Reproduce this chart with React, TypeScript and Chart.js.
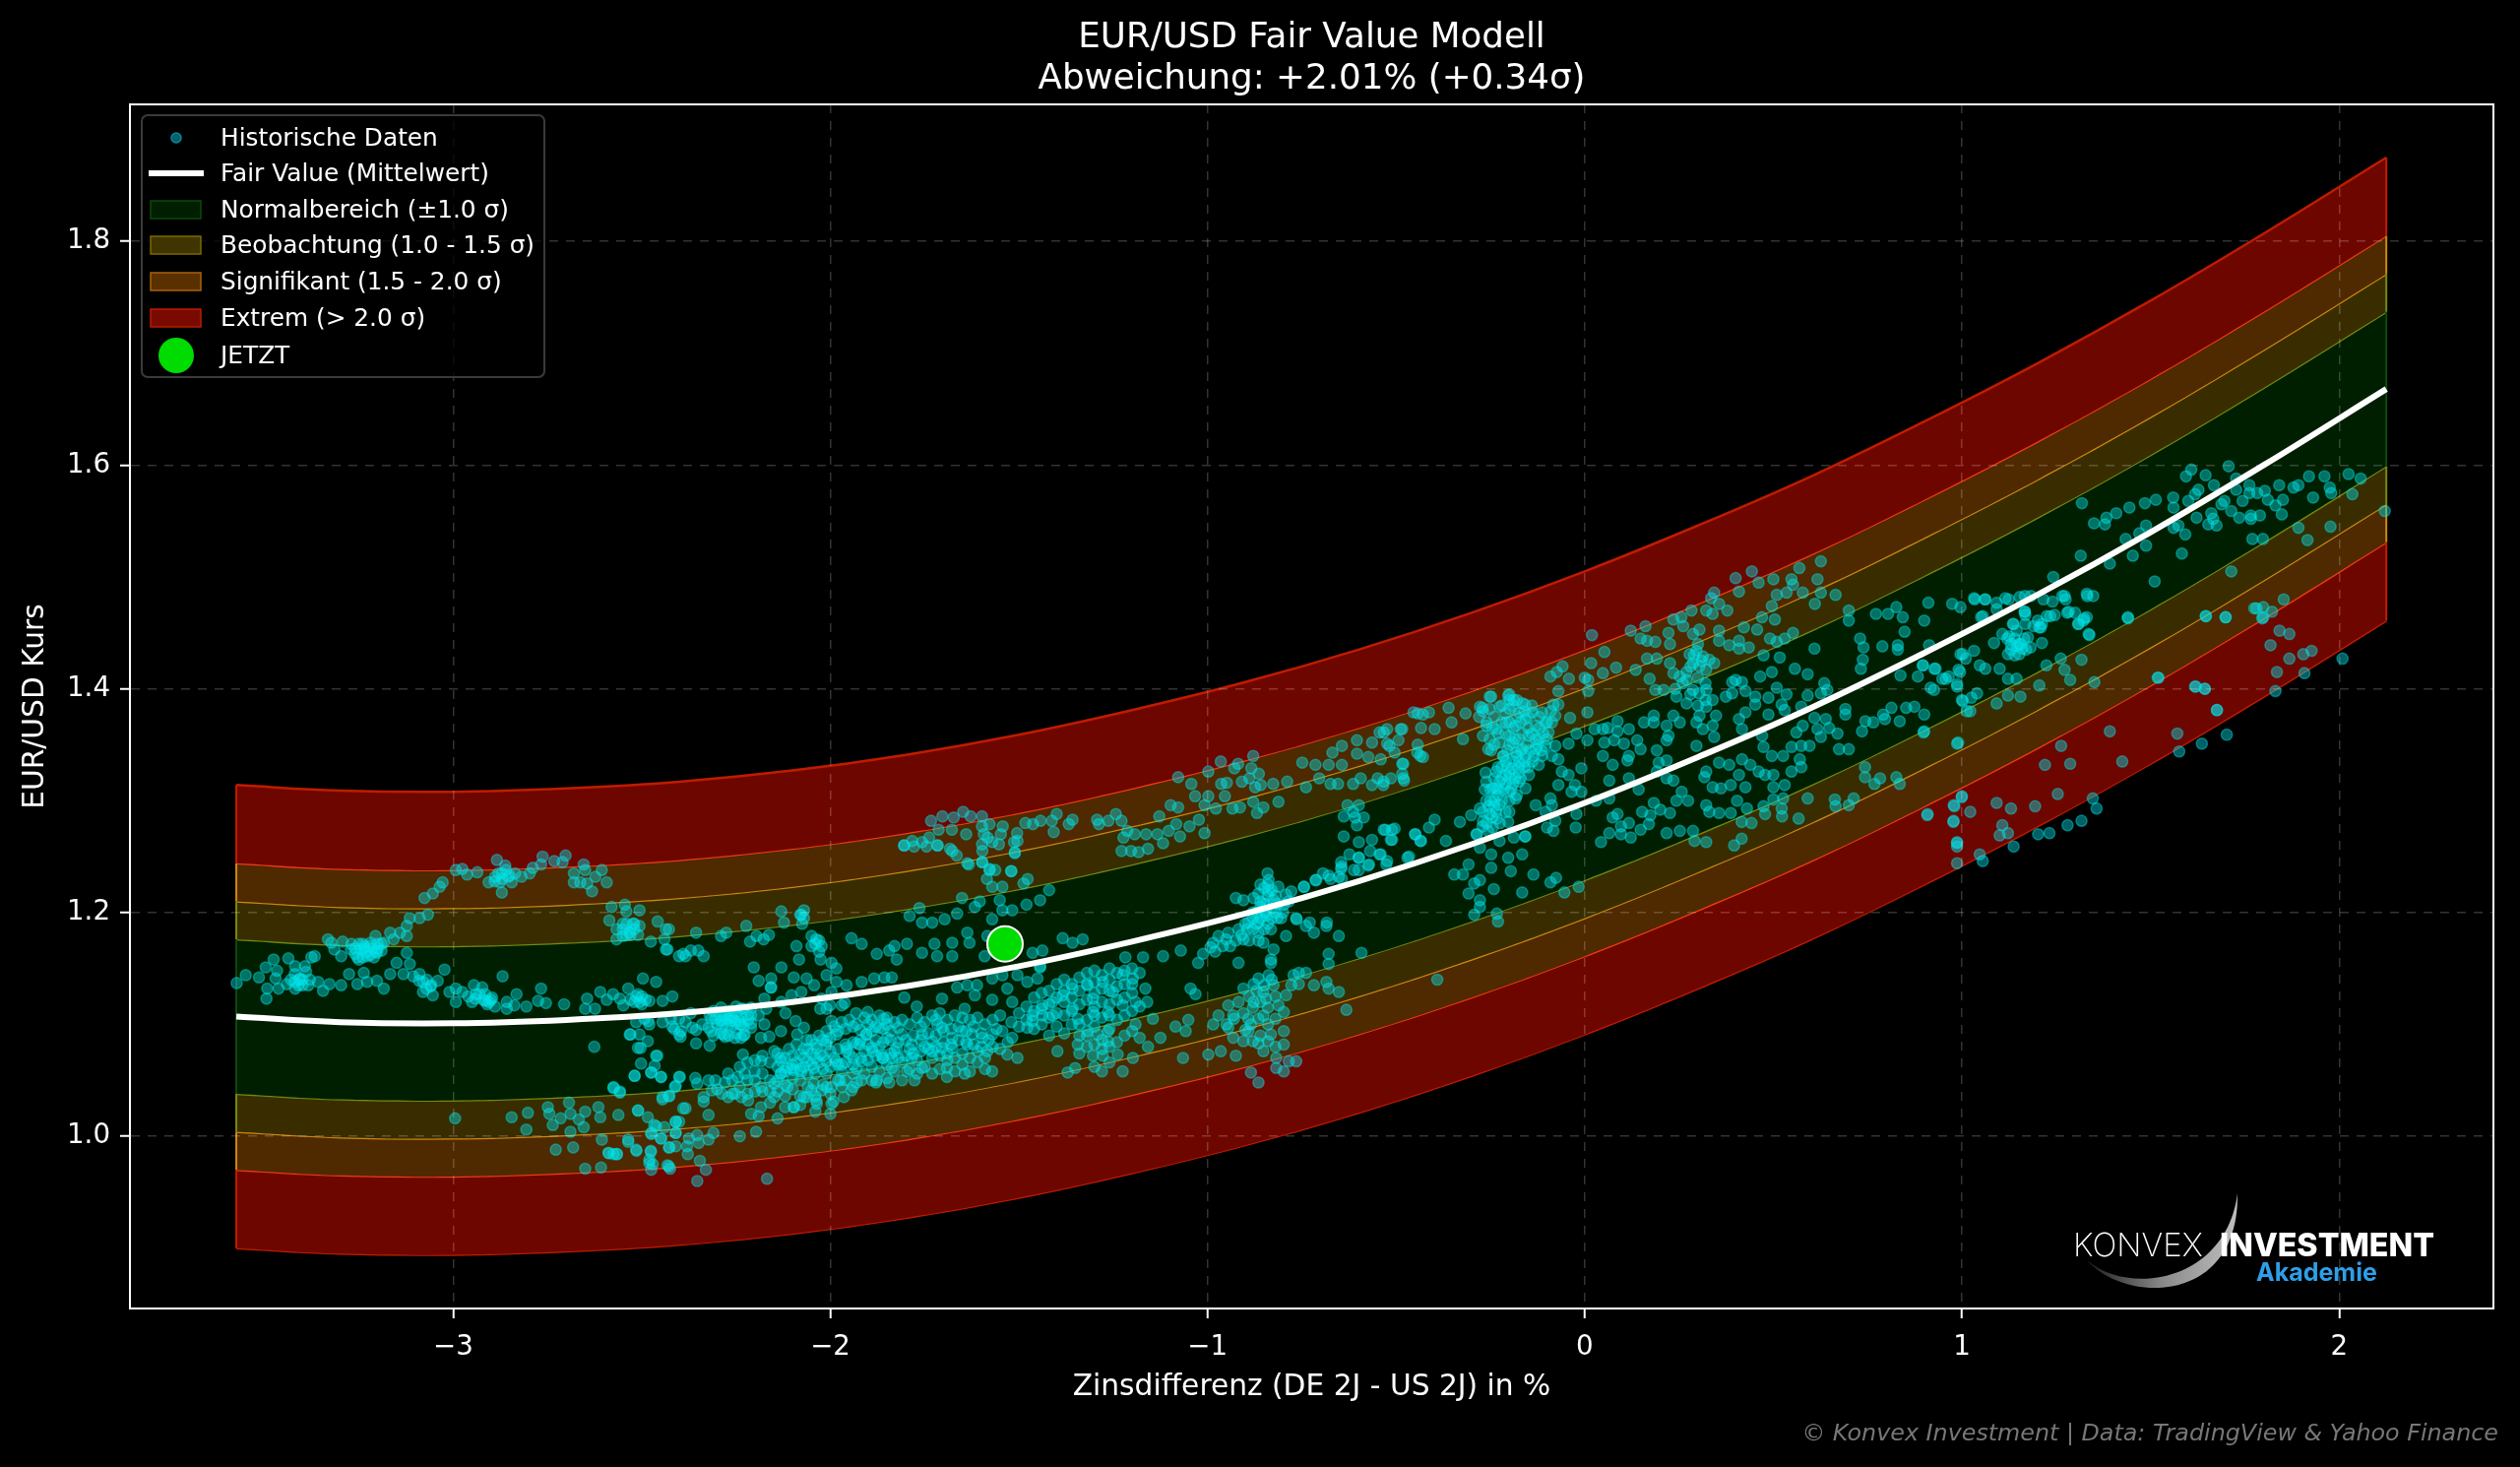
import { useEffect, useRef } from 'react';
import { Chart, registerables } from 'chart.js';
import type { ChartConfiguration, Plugin } from 'chart.js';

Chart.register(...registerables);

const titleLines = ['EUR/USD Fair Value Modell', 'Abweichung: +2.01% (+0.34σ)'];
const xAxisLabel = 'Zinsdifferenz (DE 2J - US 2J) in %';
const yAxisLabel = 'EUR/USD Kurs';
const creditText = '© Konvex Investment | Data: TradingView & Yahoo Finance';
const legendLabels = [
  'Historische Daten',
  'Fair Value (Mittelwert)',
  'Normalbereich (±1.0 σ)',
  'Beobachtung (1.0 - 1.5 σ)',
  'Signifikant (1.5 - 2.0 σ)',
  'Extrem (> 2.0 σ)',
  'JETZT',
];

const xTickValues = [-3, -2, -1, 0, 1, 2];
const yTickValues = [1.0, 1.2, 1.4, 1.6, 1.8];

// curve and band edges
const curveX = [-3.575, -3.3, -3.0, -2.7, -2.4, -2.1, -1.8, -1.5, -1.2, -0.9, -0.6, -0.3, 0, 0.3, 0.6, 0.9, 1.2, 1.5, 1.8, 2.125];
const fairValue = [1.107, 1.102, 1.101, 1.104, 1.11, 1.12, 1.134, 1.152, 1.174, 1.199, 1.228, 1.261, 1.298, 1.339, 1.383, 1.432, 1.484, 1.54, 1.6, 1.668];
const upper1 = [1.176, 1.171, 1.17, 1.173, 1.179, 1.189, 1.203, 1.221, 1.243, 1.268, 1.297, 1.33, 1.367, 1.408, 1.452, 1.501, 1.553, 1.609, 1.669, 1.737];
const upper15 = [1.21, 1.205, 1.204, 1.207, 1.213, 1.223, 1.237, 1.255, 1.277, 1.302, 1.331, 1.364, 1.401, 1.442, 1.486, 1.535, 1.587, 1.643, 1.703, 1.771];
const upper2 = [1.244, 1.239, 1.238, 1.241, 1.247, 1.257, 1.271, 1.289, 1.311, 1.336, 1.365, 1.398, 1.435, 1.476, 1.52, 1.569, 1.621, 1.677, 1.737, 1.805];
const upper3 = [1.314, 1.309, 1.308, 1.311, 1.317, 1.327, 1.341, 1.359, 1.381, 1.406, 1.435, 1.468, 1.505, 1.546, 1.59, 1.639, 1.691, 1.747, 1.807, 1.875];
const lower1 = [1.038, 1.033, 1.032, 1.035, 1.041, 1.051, 1.065, 1.083, 1.105, 1.13, 1.159, 1.192, 1.229, 1.27, 1.314, 1.363, 1.415, 1.471, 1.531, 1.599];
const lower15 = [1.004, 0.999, 0.998, 1.001, 1.007, 1.017, 1.031, 1.049, 1.071, 1.096, 1.125, 1.158, 1.195, 1.236, 1.28, 1.329, 1.381, 1.437, 1.497, 1.565];
const lower2 = [0.97, 0.965, 0.964, 0.967, 0.973, 0.983, 0.997, 1.015, 1.037, 1.062, 1.091, 1.124, 1.161, 1.202, 1.246, 1.295, 1.347, 1.403, 1.463, 1.531];
const lower3 = [0.9, 0.895, 0.894, 0.897, 0.903, 0.913, 0.927, 0.945, 0.967, 0.992, 1.021, 1.054, 1.091, 1.132, 1.176, 1.225, 1.277, 1.333, 1.393, 1.461];

const nowPoint = { x: -1.537, y: 1.172 };

// historical points, estimated cluster by cluster from the picture
const histLeftTail = [[-3.574,1.137],[-3.55,1.144],[-3.515,1.142],[-3.497,1.151],[-3.476,1.158],[-3.467,1.148],[-3.471,1.141],[-3.493,1.132],[-3.495,1.123],[-3.463,1.132],[-3.437,1.159],[-3.419,1.152],[-3.393,1.152],[-3.376,1.16],[-3.367,1.161],[-3.406,1.141],[-3.419,1.132],[-3.441,1.136],[-3.384,1.135],[-3.358,1.138],[-3.345,1.13],[-3.328,1.136],[-3.297,1.135],[-3.276,1.145],[-3.254,1.136],[-3.237,1.146],[-3.228,1.138],[-3.202,1.139],[-3.184,1.132],[-3.167,1.145],[-3.15,1.155],[-3.132,1.145],[-3.115,1.154],[-3.123,1.164],[-3.42,1.138],[-3.41,1.135],[-3.4,1.14],[-3.43,1.14],[-3.39,1.147],
  [-3.332,1.176],[-3.323,1.173],[-3.315,1.167],[-3.297,1.161],[-3.293,1.174],[-3.271,1.167],[-3.254,1.16],[-3.245,1.167],[-3.228,1.161],[-3.236,1.17],[-3.219,1.173],[-3.206,1.179],[-3.202,1.164],[-3.184,1.173],[-3.167,1.182],[-3.158,1.176],[-3.141,1.182],[-3.123,1.179],[-3.123,1.188],[-3.115,1.195],[-3.089,1.195],[-3.067,1.198],[-3.076,1.213],[-3.054,1.217],[-3.036,1.223],[-3.028,1.227],[-3.26,1.163],[-3.25,1.158],[-3.24,1.172],[-3.23,1.165],[-3.215,1.168],[-3.21,1.16],[-3.2,1.172],[-3.19,1.166],
  [-2.993,1.238],[-2.976,1.239],[-2.963,1.234],[-2.936,1.236],[-2.884,1.247],[-2.862,1.242],[-2.906,1.227],[-2.871,1.218],[-2.889,1.232],[-2.871,1.235],[-2.854,1.232],[-2.836,1.235],[-2.845,1.227],[-2.876,1.227],[-2.819,1.232],[-2.797,1.235],[-2.789,1.24],[-2.763,1.25],[-2.732,1.246],[-2.702,1.251],[-2.71,1.245],[-2.767,1.243],[-2.654,1.243],[-2.65,1.238],[-2.68,1.235],[-2.663,1.227],[-2.68,1.227],[-2.632,1.219],[-2.623,1.232],[-2.606,1.238],[-2.593,1.227],[-2.645,1.226],
  [-3.106,1.143],[-3.089,1.145],[-3.08,1.138],[-3.071,1.132],[-3.058,1.135],[-3.041,1.139],[-3.08,1.129],[-3.054,1.126],[-3.023,1.149],[-3.01,1.129],[-2.993,1.132],[-2.993,1.12],[-2.976,1.129],[-2.945,1.135],[-2.923,1.133],[-2.941,1.123],[-2.915,1.121],[-2.897,1.124],[-2.889,1.116],[-2.858,1.12],[-2.858,1.114],[-2.832,1.127],[-2.838,1.117],[-2.806,1.116],[-2.775,1.121],[-2.767,1.132],[-2.754,1.119],[-2.869,1.143],[-2.706,1.118],[-2.93,1.127],[-2.915,1.127],[-2.905,1.12],[-2.96,1.125],[-2.95,1.12]];

const histLowerLeft = [[-2.645,1.123],[-2.65,1.114],[-2.624,1.114],[-2.61,1.129],[-2.593,1.122],[-2.576,1.127],[-2.558,1.123],[-2.536,1.132],[-2.549,1.117],[-2.515,1.125],[-2.506,1.12],[-2.497,1.141],[-2.462,1.138],[-2.48,1.121],[-2.445,1.121],[-2.419,1.125],[-2.532,1.091],[-2.506,1.091],[-2.484,1.085],[-2.51,1.079],[-2.626,1.08],[-2.462,1.072],[-2.502,1.065],[-2.519,1.054],[-2.475,1.057],[-2.449,1.053],[-2.401,1.053],[-2.575,1.044],[-2.558,1.039],[-2.412,1.044],[-2.515,1.102],[-2.48,1.1],[-2.445,1.102],[-2.401,1.105],[-2.384,1.102],[-2.414,1.096],[-2.397,1.089],[-2.493,1.105],
  [-2.58,1.205],[-2.545,1.207],[-2.541,1.201],[-2.506,1.202],[-2.586,1.193],[-2.523,1.19],[-2.506,1.188],[-2.567,1.185],[-2.55,1.185],[-2.532,1.182],[-2.567,1.176],[-2.55,1.179],[-2.476,1.174],[-2.458,1.192],[-2.428,1.185],[-2.44,1.176],[-2.432,1.167],[-2.401,1.161],[-2.384,1.161],[-2.52,1.185],[-2.54,1.18],
  [-2.995,1.016],[-2.845,1.017],[-2.802,1.021],[-2.806,1.006],[-2.749,1.026],[-2.745,1.02],[-2.736,1.01],[-2.715,1.016],[-2.693,1.03],[-2.689,1.02],[-2.667,1.015],[-2.65,1.022],[-2.654,1.008],[-2.689,1.004],[-2.728,0.988],[-2.682,0.99],[-2.615,1.026],[-2.61,1.017],[-2.562,1.019],[-2.51,1.023],[-2.484,1.017],[-2.467,1.01],[-2.475,1.003],[-2.449,0.998],[-2.41,1.013],[-2.41,1.003],[-2.428,0.99],[-2.606,0.997],[-2.588,0.985],[-2.566,0.984],[-2.536,0.995],[-2.515,0.988],[-2.476,0.986],[-2.48,0.976],[-2.428,0.973],[-2.65,0.971],[-2.608,0.972],[-2.384,1.025],[-2.38,0.991],[-2.445,1.035],[-2.428,1.036]];

const histMainBlobLeft = [[-2.401,1.091],[-2.356,1.083],[-2.32,1.081],[-2.232,1.073],[-2.131,1.094],[-1.932,1.11],[-1.901,1.111],[-2.184,1.088],[-2.162,1.089],[-2.227,1.091],[-2.253,1.088],[-2.279,1.089],[-2.323,1.097],[-2.366,1.097],[-2.419,1.098],
  [-2.305,1.105],[-2.288,1.104],[-2.271,1.105],[-2.253,1.103],[-2.236,1.107],[-2.218,1.104],[-2.288,1.098],[-2.262,1.098],[-2.24,1.1],[-2.21,1.097],[-2.175,1.1],[-2.119,1.11],[-2.175,1.123],[-2.158,1.133],[-2.092,1.103],[-2.07,1.097],[-2.088,1.091],[-2.062,1.086],[-2.027,1.114],[-2.001,1.117],[-1.962,1.119],[-1.997,1.103],
  [-2.149,1.076],[-2.132,1.07],[-2.184,1.067],[-2.201,1.058],[-2.227,1.056],[-2.245,1.053],[-2.271,1.056],[-2.114,1.061],[-2.132,1.056],[-2.097,1.059],[-2.07,1.07],[-2.044,1.061],[-2.027,1.073],[-2.01,1.082],[-1.984,1.067],[-1.957,1.079],[-1.94,1.064],[-1.923,1.082],[-1.905,1.091],[-1.888,1.076],[-1.871,1.097],[-1.862,1.07],[-1.858,1.105],
  [-2.271,1.035],[-2.253,1.038],[-2.288,1.038],[-2.236,1.035],[-2.218,1.032],[-2.184,1.026],[-2.149,1.035],[-2.097,1.026],[-2.062,1.035],[-2.036,1.029],[-1.992,1.031],[-2.044,1.047],[-2.01,1.044],[-1.975,1.05],[-1.94,1.044],[-2.114,1.044],[-2.149,1.047],[-2.184,1.044],[-2.21,1.02],[-1.879,1.048],
  [-2.519,1.054],[-2.459,1.072],[-2.466,1.063],[-2.475,1.057],[-2.449,1.053],[-2.399,1.053],[-2.358,1.052],[-2.353,1.047],[-2.323,1.05],[-2.305,1.05],[-2.41,1.045],[-2.575,1.043],[-2.558,1.04],[-2.336,1.035],[-2.336,1.031],[-2.314,1.041],[-2.445,1.033],[-2.427,1.036],[-2.39,1.025],[-2.323,1.019],[-2.51,1.023],
  [-2.41,1.013],[-2.401,1.013],[-2.44,1.008],[-2.462,1.009],[-2.41,1.003],[-2.353,1.001],[-2.31,1.003],[-2.323,0.997],[-2.349,0.994],[-2.375,0.998],[-2.24,1],[-2.197,1.004],[-2.41,0.991],[-2.427,0.99],[-2.378,0.984],[-2.346,0.978],[-2.33,0.97],[-2.353,0.96],[-2.168,0.962],[-2.432,0.974],[-2.425,0.971],[-2.471,0.975],[-2.475,0.97],[-2.48,0.979],[-2.476,0.987],[-2.575,0.984],[-2.566,0.984],[-2.588,0.985],[-2.514,0.987],[-2.536,0.997],[-2.449,0.998],[-2.475,1.002]];

const histStreak = [[-2.037,1.079],[-2.01,1.085],[-1.984,1.091],[-1.957,1.076],[-1.93,1.083],[-1.904,1.091],[-1.89,1.079],[-1.864,1.073],[-1.85,1.088],[-1.824,1.079],[-1.81,1.091],[-1.784,1.082],[-1.757,1.091],[-1.73,1.085],[-1.704,1.097],[-1.677,1.088],[-1.651,1.094],[-1.624,1.091],[-1.597,1.088],[-1.837,1.07],[-1.917,1.067],[-1.97,1.064],[-2.01,1.067],[-2.05,1.064],[-2.077,1.058],[-2.103,1.061],[-2.13,1.056],[-2.13,1.067],[-1.784,1.07],[-1.73,1.076],[-1.677,1.079],[-1.637,1.082],[-1.704,1.079],[-1.89,1.094],[-1.85,1.1],[-1.717,1.1],
  [-1.757,1.061],[-1.797,1.058],[-1.837,1.061],[-1.691,1.061],[-1.644,1.056],[-1.777,1.05],[-1.691,1.053],[-1.844,1.048],[-1.877,1.05],[-1.917,1.05],[-1.944,1.041],[-1.97,1.044],[-1.997,1.044],[-2.023,1.041],[-2.05,1.041],[-2.07,1.035],[-2.097,1.026],[-2.037,1.032],[-1.997,1.029],[-1.964,1.035],[-1.571,1.058],[-1.584,1.076],[-1.531,1.073],[-1.504,1.07],
  [-1.571,1.091],[-1.544,1.094],[-1.518,1.088],[-1.478,1.097],[-1.464,1.103],[-1.438,1.108],[-1.411,1.12],[-1.384,1.126],[-1.358,1.132],[-1.318,1.135],[-1.278,1.138],[-1.225,1.144],[-1.198,1.141],[-1.251,1.129],[-1.304,1.123],[-1.358,1.114],[-1.411,1.108],[-1.438,1.117],[-1.464,1.108],[-1.344,1.105],[-1.304,1.111],[-1.264,1.111],[-1.225,1.117],[-1.191,1.12],[-1.165,1.132],
  [-1.291,1.091],[-1.264,1.094],[-1.318,1.094],[-1.344,1.082],[-1.398,1.076],[-1.238,1.073],[-1.225,1.058],[-1.278,1.072],[-1.304,1.072],[-1.351,1.061],[-1.371,1.057],[-1.198,1.07],[-1.158,1.08],[-1.125,1.088],[-1.145,1.105],[-1.085,1.098],[-1.051,1.104],[-1.058,1.094],[-1.065,1.07],[-0.998,1.073],[-1.191,1.1],[-1.264,1.085]];

const histStreakDense = [[-2.14,1.05],[-2.14,1.062],[-2.12,1.046],[-2.12,1.058],[-2.12,1.07],[-2.1,1.052],[-2.1,1.064],[-2.1,1.072],[-2.08,1.05],[-2.08,1.06],[-2.08,1.073],[-2.06,1.055],[-2.06,1.067],[-2.06,1.078],[-2.04,1.056],[-2.04,1.07],[-2.04,1.082],[-2.02,1.06],[-2.02,1.072],[-2.02,1.086],[-2,1.062],[-2,1.076],[-2,1.088],[-1.98,1.064],[-1.98,1.078],[-1.98,1.094],[-1.96,1.066],[-1.96,1.082],[-1.96,1.096],[-1.94,1.07],[-1.94,1.084],[-1.94,1.098],[-1.92,1.07],[-1.92,1.086],[-1.92,1.095],[-1.9,1.068],[-1.9,1.082],[-1.9,1.1],[-1.88,1.072],[-1.88,1.086],[-1.88,1.098],[-1.86,1.07],[-1.86,1.084],[-1.86,1.096],[-1.84,1.074],[-1.84,1.086],[-1.84,1.094],[-1.82,1.07],[-1.82,1.084],[-1.82,1.097],[-1.8,1.072],[-1.8,1.086],[-1.78,1.074],[-1.78,1.09],[-1.76,1.076],[-1.76,1.086],[-1.76,1.098],[-1.74,1.078],[-1.74,1.092],[-1.72,1.08],[-1.72,1.09],[-1.72,1.104],[-1.7,1.084],[-1.7,1.094],[-1.68,1.082],[-1.68,1.096],[-1.66,1.086],[-1.66,1.098],[-1.64,1.084],[-1.64,1.094],[-1.62,1.082],[-1.62,1.098],[-1.6,1.08],[-1.6,1.092],[-1.58,1.086],[-1.56,1.096],
  [-1.5,1.098],[-1.48,1.104],[-1.46,1.096],[-1.46,1.112],[-1.44,1.1],[-1.44,1.114],[-1.42,1.106],[-1.42,1.118],[-1.4,1.11],[-1.4,1.124],[-1.38,1.108],[-1.38,1.12],[-1.38,1.13],[-1.36,1.112],[-1.36,1.124],[-1.34,1.118],[-1.34,1.13],[-1.32,1.122],[-1.32,1.136],[-1.3,1.116],[-1.3,1.128],[-1.3,1.138],[-1.28,1.12],[-1.28,1.132],[-1.26,1.118],[-1.26,1.13],[-1.26,1.14],[-1.24,1.122],[-1.24,1.134],[-1.22,1.124],[-1.22,1.136],[-1.2,1.128],[-1.2,1.136],[-1.32,1.09],[-1.3,1.098],[-1.28,1.086],[-1.26,1.096],[-1.34,1.1],
  [-2.3,1.1],[-2.28,1.108],[-2.27,1.1],[-2.25,1.11],[-2.24,1.103],[-2.22,1.108],[-2.21,1.101],[-2.29,1.108],[-2.26,1.106],[-2.23,1.098],
  [-2.2,1.05],[-2.18,1.056],[-2.16,1.05],[-2.18,1.04],[-2.14,1.04],[-2.12,1.036],[-2.1,1.042],[-2.08,1.036],[-2.06,1.044],[-2.04,1.036],[-2.02,1.046],[-2,1.038],[-1.98,1.05],[-1.96,1.05],[-1.94,1.056],[-2.2,1.04],[-2.24,1.044],[-2.26,1.038],[-2.22,1.05],
  [-3.26,1.168],[-3.25,1.172],[-3.24,1.16],[-3.235,1.168],[-3.22,1.162],[-3.22,1.17],[-3.205,1.165],[-3.2,1.168],[-3.27,1.172],[-3.19,1.172],[-3.42,1.145],[-3.41,1.14],[-3.4,1.135],[-3.38,1.14],[-3.09,1.139],[-3.07,1.14],[-3.06,1.134],[-2.92,1.122],[-2.91,1.118],[-2.9,1.122],[-2.94,1.127],
  [-2.53,1.122],[-2.51,1.127],[-2.5,1.125],[-2.5,1.118],[-2.49,1.122],[-2.52,1.12],[-2.88,1.235],[-2.87,1.23],[-2.86,1.238],[-2.85,1.233],[-2.89,1.228],[-2.54,1.19],[-2.53,1.18],[-2.55,1.19],[-2.52,1.19],[-2.51,1.18],[-2.08,1.198],[-2.075,1.19],[-2.07,1.195],[-2.05,1.17],[-2.04,1.172],[-2.03,1.165],[-2.03,1.175]];

const histStreakOuter = [[-2.11,1.078],[-2.09,1.082],[-2.07,1.078],[-2.05,1.086],[-2.03,1.09],[-2.01,1.094],[-1.99,1.098],[-1.97,1.102],[-1.95,1.104],[-1.93,1.1],[-1.91,1.106],[-1.89,1.104],[-1.87,1.108],[-1.85,1.106],[-1.83,1.102],[-1.81,1.104],[-1.79,1.1],[-1.77,1.106],[-1.75,1.102],[-1.73,1.108],[-1.71,1.11],[-1.69,1.104],[-1.67,1.108],[-1.65,1.106],[-1.63,1.104],[-1.61,1.106],[-1.59,1.1],[-1.57,1.104],[-1.55,1.108],
  [-2.09,1.066],[-2.07,1.062],[-2.05,1.074],[-2.03,1.066],[-2.01,1.056],[-1.99,1.07],[-1.97,1.058],[-1.95,1.074],[-1.93,1.06],[-1.91,1.076],[-1.89,1.062],[-1.87,1.08],[-1.85,1.064],[-1.83,1.076],[-1.81,1.066],[-1.79,1.078],[-1.77,1.068],[-1.75,1.08],[-1.73,1.07],[-1.71,1.072],[-1.69,1.074],[-1.67,1.07],[-1.65,1.074],[-1.63,1.07],[-1.61,1.076],[-1.59,1.07],[-1.57,1.08],[-1.55,1.078],[-1.53,1.084],
  [-1.93,1.048],[-1.91,1.056],[-1.89,1.05],[-1.87,1.058],[-1.85,1.052],[-1.83,1.058],[-1.81,1.05],[-1.79,1.06],[-1.77,1.056],[-1.75,1.062],[-1.73,1.056],[-1.71,1.06],[-1.69,1.068],[-1.67,1.058],[-1.65,1.064],[-1.63,1.058],[-1.61,1.066],[-1.59,1.06],
  [-1.52,1.102],[-1.5,1.11],[-1.48,1.116],[-1.46,1.124],[-1.44,1.128],[-1.42,1.13],[-1.4,1.136],[-1.38,1.14],[-1.36,1.136],[-1.34,1.142],[-1.32,1.146],[-1.3,1.148],[-1.28,1.144],[-1.26,1.15],[-1.24,1.146],[-1.22,1.148],[-1.2,1.15],[-1.18,1.146],[-1.42,1.09],[-1.4,1.098],[-1.38,1.092],[-1.36,1.1],[-1.34,1.09],[-1.32,1.104],[-1.3,1.108],[-1.28,1.106],[-1.26,1.108],[-1.24,1.104],[-1.22,1.108],[-1.2,1.112],[-1.18,1.116],[-1.16,1.12],[-1.34,1.074],[-1.32,1.08],[-1.3,1.082],[-1.28,1.078],[-1.26,1.08],[-1.24,1.084],[-1.22,1.09],[-1.2,1.094],[-1.18,1.088],[-1.3,1.062],[-1.28,1.058],[-1.26,1.066],
  [-2.34,1.1],[-2.32,1.108],[-2.31,1.112],[-2.29,1.115],[-2.27,1.112],[-2.25,1.116],[-2.23,1.114],[-2.21,1.115],[-2.19,1.108],[-2.31,1.09],[-2.29,1.092],[-2.27,1.09],[-2.25,1.092],[-2.23,1.09],
  [-2.24,1.062],[-2.22,1.066],[-2.2,1.068],[-2.18,1.072],[-2.16,1.066],[-2.14,1.074],[-2.26,1.05],[-2.28,1.048],[-2.3,1.042],[-2.22,1.038],[-2.16,1.04],[-2.12,1.026],[-2.08,1.028],[-2.04,1.022],[-2,1.02],[-2.16,1.03],[-2.19,1.018],[-2.14,1.016]];

const histAroundNow = [[-1.518,1.12],[-1.571,1.122],[-1.531,1.132],[-1.617,1.126],[-1.644,1.114],[-1.704,1.123],[-1.771,1.116],[-1.804,1.124],[-1.664,1.133],[-1.637,1.135],[-1.611,1.135],[-1.571,1.141],[-1.544,1.144],[-1.504,1.144],[-1.451,1.141],[-1.444,1.151],[-1.478,1.138],[-1.218,1.16],[-1.171,1.16],[-1.118,1.161],[-1.071,1.166],[-1.045,1.132],[-1.032,1.127],
  [-1.877,1.163],[-1.844,1.166],[-1.824,1.158],[-1.797,1.172],[-1.757,1.164],[-1.724,1.172],[-1.717,1.161],[-1.677,1.161],[-1.677,1.173],[-1.631,1.173],[-1.637,1.182],[-1.584,1.179],[-1.591,1.161],[-1.464,1.164],[-1.438,1.166],[-1.384,1.177],[-1.358,1.173],[-1.331,1.176],[-1.444,1.152],[-1.83,1.17],
  [-2.203,1.151],[-2.13,1.151],[-2.19,1.139],[-2.157,1.141],[-2.157,1.133],[-2.09,1.17],[-2.083,1.158],[-2.063,1.141],[-2.097,1.142],[-2.05,1.179],[-2.037,1.176],[-2.023,1.17],[-2.026,1.158],[-1.997,1.155],[-1.984,1.15],[-2.043,1.135],[-2.01,1.144],[-1.984,1.138],[-1.957,1.135],[-1.997,1.129],[-2.023,1.123],[-2.077,1.129],[-2.103,1.126],[-2.13,1.12],[-1.97,1.117],[-2.01,1.114],[-1.917,1.138],[-1.884,1.141],[-1.857,1.142],[-1.837,1.142],[-1.944,1.177],[-1.917,1.172],
  [-2.077,1.198],[-2.07,1.202],[-2.13,1.201],[-2.123,1.191],[-2.163,1.18],[-2.196,1.179],[-2.223,1.188],[-2.213,1.174],[-2.29,1.179],[-2.356,1.182],[-2.276,1.182],[-2.177,1.176],[-2.39,1.163],[-2.37,1.166],[-2.336,1.161],[-2.35,1.166],[-2.436,1.185],[-2.436,1.167],
  [-2.483,1.103],[-2.423,1.105],[-2.37,1.11],[-2.316,1.105],[-2.263,1.108],[-2.237,1.114],[-2.21,1.108],[-2.17,1.114],[-2.29,1.103],[-2.263,1.103],[-2.237,1.1],[-2.396,1.094],[-2.356,1.095],[-2.316,1.094],[-2.283,1.091],[-2.237,1.088],[-2.53,1.091],[-2.503,1.079],
  [-1.79,1.197],[-1.764,1.204],[-1.757,1.191],[-1.73,1.191],[-1.697,1.194],[-1.664,1.199],[-1.651,1.213],[-1.617,1.205],[-1.604,1.21],[-1.571,1.223],[-1.544,1.223],[-1.551,1.211],[-1.544,1.202],[-1.571,1.194],[-1.518,1.202],[-1.488,1.226],[-1.477,1.23],[-1.48,1.207],[-1.444,1.211],[-1.42,1.22],[-1.637,1.244],[-1.597,1.245],[-1.578,1.238],[-1.52,1.237],[-1.677,1.255],[-1.804,1.26],[-1.757,1.263],[-1.597,1.255],[-1.571,1.263],[-1.511,1.254],[-1.504,1.264],[-1.717,1.26]];

const histUpperBand = [[-1.805,1.26],[-1.783,1.264],[-1.778,1.259],[-1.745,1.259],[-1.738,1.267],[-1.715,1.26],[-1.733,1.282],[-1.703,1.286],[-1.673,1.285],[-1.648,1.29],[-1.628,1.286],[-1.598,1.286],[-1.713,1.274],[-1.678,1.274],[-1.64,1.27],[-1.598,1.277],[-1.578,1.279],[-1.593,1.27],[-1.598,1.261],[-1.583,1.267],[-1.543,1.277],[-1.548,1.27],[-1.553,1.261],[-1.505,1.271],[-1.513,1.263],[-1.511,1.253],[-1.683,1.257],[-1.665,1.251],[-1.633,1.243],[-1.598,1.245],[-1.578,1.239],[-1.563,1.238],[-1.585,1.23],[-1.521,1.237],
  [-1.483,1.28],[-1.463,1.279],[-1.443,1.282],[-1.413,1.282],[-1.4,1.288],[-1.408,1.272],[-1.368,1.279],[-1.358,1.283],[-1.293,1.283],[-1.288,1.279],[-1.263,1.282],[-1.243,1.288],[-1.228,1.282],[-1.213,1.273],[-1.223,1.267],[-1.193,1.27],[-1.163,1.27],[-1.133,1.27],[-1.103,1.273],[-1.083,1.279],[-1.048,1.277],[-1.023,1.283],[-1.008,1.271],[-1.073,1.268],[-1.118,1.262],[-1.228,1.255],[-1.203,1.255],[-1.183,1.254],[-1.158,1.257],[-1.128,1.286],[-1.098,1.296],[-1.078,1.294],[-1.078,1.321],[-1.043,1.315],[-0.998,1.326],[-0.965,1.335],[-1.033,1.304],[-1.008,1.296],[-0.998,1.304],[-0.978,1.293],[-0.954,1.304],[-0.934,1.293],[-0.914,1.294],[-0.929,1.329],[-0.919,1.333],[-0.964,1.315],[-0.949,1.316],[-0.909,1.317],[-0.889,1.32],[-0.864,1.324],[-0.884,1.329],[-0.879,1.34],[-0.874,1.312],[-0.859,1.314],[-0.879,1.299],[-0.852,1.294],[-0.869,1.289],[-0.812,1.299],[-0.826,1.315],[-0.789,1.317],[-0.749,1.334],[-0.739,1.312],[-0.714,1.332],[-0.704,1.32],[-0.679,1.332],[-0.674,1.315],[-0.654,1.315],[-0.669,1.343],[-0.644,1.349],[-0.644,1.332],[-0.614,1.315],[-0.594,1.32],[-0.564,1.314],[-0.549,1.32],[-0.534,1.314],[-0.514,1.32],[-0.479,1.318],[-0.484,1.333],[-0.484,1.324],[-0.604,1.354],[-0.604,1.342],[-0.574,1.339],[-0.564,1.352],[-0.544,1.361],[-0.524,1.364],[-0.524,1.351],[-0.504,1.343],[-0.494,1.354],[-0.484,1.364],[-0.454,1.379],[-0.434,1.365],[-0.444,1.343],[-0.429,1.339],[-0.429,1.377],
  [-0.629,1.296],[-0.599,1.296],[-0.614,1.29],[-0.639,1.286],[-0.609,1.285],[-0.586,1.285],[-0.604,1.278],[-0.639,1.268],[-0.599,1.263],[-0.564,1.265],[-0.529,1.274],[-0.504,1.275],[-0.514,1.265],[-0.449,1.27],[-0.434,1.264],[-0.624,1.252],[-0.599,1.249],[-0.569,1.255],[-0.544,1.252],[-0.524,1.246],[-0.574,1.242],[-0.599,1.238],[-0.646,1.245],[-0.646,1.239],[-0.466,1.25],[-0.644,1.23],[-0.674,1.23],[-0.694,1.235],[-0.714,1.229],[-0.744,1.223],[-0.764,1.194],[-0.729,1.191],[-0.684,1.191]];

const histBlobsNearMinusOne = [[-0.841,1.235],[-0.865,1.217],[-0.838,1.229],[-0.812,1.223],[-0.792,1.216],[-0.905,1.211],[-0.852,1.208],[-0.825,1.211],[-0.878,1.213],[-0.798,1.207],[-0.845,1.197],[-0.805,1.195],[-0.865,1.191],[-0.892,1.191],[-0.918,1.185],[-0.945,1.182],[-0.971,1.179],[-0.865,1.182],[-0.832,1.185],[-0.905,1.176],[-0.951,1.176],[-0.985,1.173],[-0.852,1.173],[-0.825,1.167],[-0.992,1.169],[-1.012,1.163],[-1.025,1.155],[-0.925,1.213],[-0.838,1.219],[-0.778,1.219],[-0.785,1.21],[-0.765,1.195],[-0.792,1.179],[-0.832,1.158],[-0.918,1.155],[-0.832,1.155],[-0.85,1.2],[-0.88,1.2],[-0.82,1.2],[-0.86,1.21],[-0.84,1.215],[-0.87,1.19],[-0.84,1.19],[-0.9,1.19],
  [-0.86,1.225],[-0.85,1.222],[-0.84,1.225],[-0.83,1.22],[-0.82,1.215],[-0.86,1.205],[-0.845,1.208],[-0.83,1.204],[-0.815,1.208],[-0.87,1.2],[-0.86,1.195],[-0.845,1.2],[-0.83,1.195],[-0.815,1.195],[-0.8,1.2],[-0.88,1.195],[-0.895,1.185],[-0.88,1.185],[-0.865,1.175],[-0.85,1.185],[-0.925,1.175],[-0.91,1.18],[-0.89,1.175],[-0.94,1.17],[-0.96,1.17],[-0.98,1.165],
  [-0.745,1.223],[-0.712,1.229],[-0.679,1.233],[-0.645,1.241],[-0.652,1.232],[-0.599,1.249],[-0.612,1.238],[-0.572,1.243],[-0.739,1.188],[-0.718,1.182],[-0.685,1.188],[-0.652,1.179],[-0.679,1.163],[-0.592,1.164],[-0.679,1.154],[-0.758,1.146],[-0.739,1.146],[-0.679,1.132],[-0.652,1.129],[-0.632,1.113],[-0.718,1.135],
  [-0.865,1.141],[-0.838,1.144],[-0.878,1.136],[-0.905,1.132],[-0.852,1.129],[-0.825,1.135],[-0.918,1.12],[-0.878,1.12],[-0.845,1.123],[-0.812,1.117],[-0.945,1.117],[-0.971,1.108],[-0.932,1.108],[-0.892,1.105],[-0.852,1.108],[-0.798,1.111],[-0.985,1.1],[-0.945,1.097],[-0.905,1.085],[-0.865,1.083],[-0.832,1.091],[-0.798,1.094],[-0.798,1.082],[-0.965,1.076],[-0.925,1.072],[-0.818,1.07],[-0.785,1.067],[-0.765,1.067],[-0.798,1.058],[-0.818,1.061],[-0.885,1.057],[-0.865,1.048],[-0.932,1.088],[-0.892,1.094],[-0.852,1.076],[-0.792,1.126],[-0.778,1.135],[-0.772,1.144],[-0.685,1.138],[-0.758,1.136],
  [-0.88,1.115],[-0.86,1.12],[-0.84,1.115],[-0.82,1.125],[-0.83,1.14],[-0.85,1.135],[-0.87,1.13],[-0.89,1.125],[-0.905,1.11],[-0.885,1.1],[-0.865,1.105],[-0.84,1.1],[-0.82,1.105],[-0.9,1.095],[-0.88,1.085],[-0.86,1.09],[-0.84,1.085],[-0.82,1.08],[-0.93,1.105],[-0.95,1.1]];

const histCentreBlob = [[-0.278,1.293],[-0.261,1.3],[-0.244,1.311],[-0.226,1.317],[-0.209,1.323],[-0.191,1.329],[-0.174,1.335],[-0.157,1.34],[-0.252,1.288],[-0.226,1.296],[-0.2,1.308],[-0.174,1.317],[-0.148,1.323],[-0.27,1.282],[-0.244,1.276],[-0.2,1.29],[-0.157,1.311],[-0.261,1.317],[-0.235,1.326],[-0.209,1.335],[-0.183,1.343],[-0.13,1.346],[-0.113,1.34],[-0.104,1.349],[-0.087,1.34],[-0.07,1.337],[-0.139,1.335],[-0.122,1.332],[-0.165,1.346],[-0.191,1.352],[-0.217,1.34],[-0.235,1.311],[-0.183,1.302],[-0.287,1.27],[-0.25,1.3],[-0.23,1.305],[-0.215,1.31],[-0.2,1.32],[-0.19,1.315],[-0.175,1.325],[-0.16,1.33],[-0.24,1.295],[-0.22,1.33],[-0.205,1.345],
  [-0.27,1.29],[-0.265,1.31],[-0.26,1.28],[-0.255,1.295],[-0.25,1.31],[-0.245,1.285],[-0.24,1.3],[-0.24,1.32],[-0.235,1.29],[-0.23,1.31],[-0.23,1.33],[-0.225,1.28],[-0.22,1.3],[-0.22,1.32],[-0.215,1.34],[-0.21,1.29],[-0.21,1.315],[-0.205,1.33],[-0.2,1.3],[-0.2,1.325],[-0.2,1.35],[-0.195,1.31],[-0.19,1.335],[-0.185,1.32],[-0.185,1.355],[-0.18,1.305],[-0.18,1.34],[-0.175,1.33],[-0.17,1.345],[-0.17,1.32],[-0.165,1.36],[-0.16,1.335],[-0.155,1.35],[-0.15,1.33],[-0.15,1.365],[-0.145,1.345],[-0.14,1.36],[-0.135,1.34],[-0.13,1.355],[-0.125,1.35],[-0.12,1.365],[-0.115,1.345],[-0.11,1.36],[-0.1,1.355],[-0.24,1.35],[-0.23,1.36],[-0.22,1.37],[-0.21,1.36],[-0.2,1.37],[-0.19,1.365],[-0.18,1.375],[-0.17,1.37],[-0.16,1.38],[-0.15,1.375],[-0.14,1.385],[-0.22,1.385],[-0.21,1.378],[-0.19,1.385],[-0.18,1.39],[-0.24,1.375],[-0.26,1.37],[-0.245,1.365],[-0.27,1.38],[-0.12,1.375],[-0.1,1.37],[-0.09,1.38],[-0.28,1.375],[-0.2,1.395],
  [-0.261,1.367],[-0.235,1.364],[-0.209,1.37],[-0.183,1.367],[-0.157,1.373],[-0.13,1.367],[-0.104,1.37],[-0.252,1.355],[-0.226,1.352],[-0.2,1.358],[-0.174,1.355],[-0.148,1.358],[-0.122,1.355],[-0.096,1.361],[-0.27,1.358],[-0.078,1.349],[-0.248,1.345],[-0.278,1.384],[-0.252,1.382],[-0.226,1.384],[-0.2,1.39],[-0.174,1.379],[-0.252,1.393],[-0.165,1.387],[-0.2,1.382],[-0.139,1.379],[-0.113,1.379],[-0.087,1.37],[-0.078,1.376],[-0.07,1.386],[-0.083,1.386],[-0.039,1.374],[-0.07,1.398],[-0.091,1.411],[-0.059,1.42],[-0.074,1.415],[-0.042,1.409],[-0.022,1.36],[-0.043,1.351],[0.007,1.379],[0.009,1.398],[0,1.41],[0.017,1.423],[0.019,1.448],[0.052,1.433],[0.009,1.408],[0.048,1.414],[0.083,1.419],[0.007,1.354],[0.026,1.364],
  [-0.009,1.329],[-0.026,1.314],[-0.035,1.308],[-0.009,1.308],[-0.061,1.326],[-0.043,1.323],[-0.07,1.314],[-0.091,1.302],[-0.087,1.296],[-0.13,1.296],[-0.104,1.29],[-0.1,1.276],[-0.078,1.282],[-0.083,1.273],[-0.158,1.268],[-0.022,1.288],[-0.024,1.276],[0.03,1.3],[0.065,1.318],[0.065,1.302],
  [-0.323,1.234],[-0.346,1.234],[-0.293,1.226],[-0.308,1.217],[-0.278,1.211],[-0.278,1.205],[-0.293,1.198],[-0.233,1.199],[-0.23,1.192],[-0.241,1.221],[-0.196,1.237],[-0.136,1.234],[-0.166,1.218],[-0.091,1.227],[-0.076,1.231],[-0.054,1.218],[-0.016,1.223],[-0.391,1.14],[-0.278,1.258],[-0.248,1.252],[-0.203,1.249],[-0.166,1.252],[-0.308,1.243],[-0.248,1.24],[-0.278,1.229],[-0.331,1.281],[-0.368,1.264],[-0.398,1.283],[-0.413,1.276],[-0.45,1.27],[-0.436,1.264],[-0.511,1.274],[-0.511,1.265],[-0.533,1.274],[-0.47,1.249],[-0.541,1.252],[-0.526,1.243],[-0.263,1.325],[-0.301,1.287],[-0.233,1.284],[-0.271,1.277],[-0.286,1.27],[-0.256,1.273],[-0.203,1.281],[-0.226,1.264],[-0.188,1.267],[-0.158,1.268],
  [-0.533,1.361],[-0.488,1.364],[-0.443,1.35],[-0.436,1.34],[-0.481,1.333],[-0.481,1.32],[-0.533,1.317],[-0.541,1.337],[-0.518,1.349],[-0.443,1.378],[-0.413,1.379],[-0.353,1.37],[-0.361,1.383],[-0.316,1.378],[-0.271,1.383],[-0.248,1.393],[-0.188,1.39],[-0.203,1.394],[-0.158,1.386],[-0.398,1.364],[-0.323,1.355],[-0.256,1.346]];

const histCentreScatter = [[0.122,1.452],[0.161,1.456],[0.148,1.445],[0.165,1.443],[0.187,1.442],[0.226,1.44],[0.222,1.45],[0.235,1.462],[0.261,1.456],[0.256,1.464],[0.283,1.47],[0.304,1.453],[0.287,1.449],[0.322,1.47],[0.339,1.467],[0.343,1.486],[0.335,1.481],[0.378,1.47],[0.356,1.476],[0.356,1.452],[0.356,1.443],[0.383,1.439],[0.409,1.443],[0.409,1.436],[0.435,1.437],[0.422,1.455],[0.457,1.453],[0.47,1.464],[0.504,1.462],[0.496,1.474],[0.509,1.484],[0.535,1.486],[0.552,1.493],[0.578,1.486],[0.548,1.498],[0.5,1.498],[0.461,1.495],[0.443,1.505],[0.409,1.487],[0.4,1.499],[0.569,1.508],[0.626,1.514],[0.617,1.498],[0.626,1.486],[0.61,1.476],[0.665,1.484],[0.491,1.445],[0.509,1.442],[0.53,1.445],[0.552,1.45],[0.474,1.43],[0.517,1.428],[0.609,1.436],[0.7,1.47],[0.7,1.461],
  [0.278,1.431],[0.296,1.434],[0.313,1.429],[0.33,1.426],[0.287,1.423],[0.304,1.42],[0.322,1.417],[0.343,1.423],[0.252,1.411],[0.235,1.414],[0.27,1.408],[0.226,1.423],[0.165,1.427],[0.191,1.427],[0.135,1.417],[0.172,1.409],[0.187,1.399],[0.209,1.399],[0.28,1.42],[0.29,1.43],[0.3,1.41],[0.31,1.425],[0.26,1.405],[0.27,1.415],[0.32,1.405],[0.3,1.44],[0.24,1.4],[0.28,1.395],[0.3,1.385],[0.32,1.39],
  [0.243,1.393],[0.27,1.387],[0.287,1.399],[0.304,1.396],[0.322,1.399],[0.339,1.39],[0.322,1.384],[0.348,1.376],[0.304,1.376],[0.296,1.37],[0.313,1.364],[0.339,1.367],[0.343,1.357],[0.296,1.349],[0.235,1.376],[0.252,1.37],[0.183,1.376],[0.183,1.37],[0.157,1.37],[0.217,1.367],[0.222,1.358],[0.217,1.354],[0.139,1.354],[0.148,1.346],[0.117,1.364],[0.087,1.371],[0.061,1.365],[0.048,1.364],[0.087,1.362],[0.052,1.352],[0.078,1.354],[0.104,1.351],[0.117,1.34],[0.113,1.336],[0.074,1.332],[0.048,1.34],[0.191,1.345],[0.196,1.334],[0.217,1.336],[0.191,1.326],[0.217,1.32],[0.235,1.318],[0.143,1.31],[0.117,1.32],
  [0.4,1.408],[0.391,1.406],[0.417,1.406],[0.465,1.411],[0.496,1.415],[0.557,1.418],[0.591,1.413],[0.374,1.393],[0.391,1.396],[0.426,1.398],[0.452,1.393],[0.487,1.392],[0.509,1.401],[0.535,1.395],[0.522,1.386],[0.574,1.384],[0.591,1.394],[0.626,1.396],[0.635,1.405],[0.643,1.399],
  [0.426,1.379],[0.409,1.373],[0.417,1.364],[0.452,1.386],[0.487,1.377],[0.53,1.381],[0.609,1.374],[0.639,1.373],[0.691,1.382],[0.691,1.377],[0.744,1.371],[0.765,1.37],[0.791,1.377],[0.813,1.383],[0.852,1.383],[0.874,1.384],[0.9,1.377],[0.796,1.373],[0.835,1.371],[0.735,1.362],[0.617,1.364],[0.648,1.365],[0.67,1.36],[0.674,1.346],[0.7,1.346],[0.626,1.357],[0.578,1.367],[0.561,1.361],[0.47,1.358],[0.474,1.348],[0.496,1.34],[0.526,1.34],[0.548,1.348],[0.574,1.349],[0.596,1.349],[0.57,1.337],[0.574,1.33],[0.548,1.326],[0.356,1.334],[0.383,1.332],[0.417,1.337],[0.439,1.332],[0.461,1.326],[0.478,1.323],[0.5,1.323],[0.409,1.323],[0.322,1.326],[0.317,1.321],[0.339,1.312],[0.361,1.311],[0.387,1.314],[0.426,1.312],[0.5,1.312],[0.53,1.314],
  [0.257,1.308],[0.243,1.3],[0.274,1.3],[0.183,1.298],[0.152,1.29],[0.087,1.288],[0.074,1.285],[0.117,1.28],[0.174,1.287],[0.2,1.292],[0.226,1.289],[0.17,1.279],[0.148,1.274],[0.096,1.277],[0.065,1.271],[0.043,1.263],[0.096,1.27],[0.122,1.267],[0.217,1.271],[0.252,1.273],[0.287,1.273],[0.291,1.264],[0.322,1.296],[0.33,1.29],[0.356,1.289],[0.387,1.289],[0.404,1.3],[0.43,1.293],[0.474,1.295],[0.5,1.301],[0.526,1.302],[0.522,1.293],[0.478,1.288],[0.523,1.286],[0.567,1.284],[0.591,1.302],[0.416,1.281],[0.442,1.28],[0.663,1.301],[0.665,1.295],[0.7,1.296],[0.713,1.302],[0.743,1.33],[0.743,1.321],[0.783,1.32],[0.768,1.315],[0.826,1.321],[0.835,1.315],[0.322,1.263],[0.416,1.266],[0.396,1.26],
  [0.911,1.477],[0.974,1.476],[0.996,1.473],[0.772,1.467],[0.804,1.467],[0.826,1.473],[0.843,1.464],[0.9,1.461],[0.848,1.451],[0.73,1.445],[0.739,1.437],[0.737,1.426],[0.732,1.418],[0.789,1.438],[0.83,1.439],[0.83,1.435],[0.913,1.439],[0.837,1.412],[0.883,1.411],[0.896,1.421],[0.93,1.418],[0.948,1.409],[0.965,1.411],[0.917,1.401],[0.926,1.399],[0.991,1.417],[0.996,1.431],[1,1.39],[0.987,1.404],[0.9,1.362],[0.99,1.352],[1.013,1.38],[0.909,1.288],[0.978,1.296],[0.978,1.282],[1,1.304],[0.987,1.263]];

const histRightOne = [[1.032,1.481],[1.062,1.48],[1.115,1.481],[1.167,1.483],[1.272,1.483],[1.332,1.483],[1.234,1.465],[1.279,1.468],[1.324,1.463],[1.309,1.458],[1.212,1.458],[1.167,1.469],[1.137,1.458],[1.055,1.465],[1.19,1.456],[1.205,1.455],[1.336,1.449],[1.44,1.463],[1.212,1.441],
  [1.107,1.449],[1.145,1.452],[1.175,1.446],[1.13,1.44],[1.16,1.436],[1.085,1.441],[1.122,1.431],[1.152,1.431],[1.182,1.437],[1.14,1.445],[1.15,1.44],[1.125,1.447],[1.13,1.435],[1.14,1.43],[1.155,1.44],[1.165,1.445],[1.145,1.438],[1.12,1.445],[1.17,1.435],
  [1.002,1.431],[1.032,1.434],[1.01,1.427],[0.995,1.415],[1.047,1.421],[1.062,1.418],[1.1,1.418],[1.122,1.409],[1.145,1.409],[0.957,1.409],[0.927,1.418],[0.897,1.421],[0.987,1.402],[1.002,1.389],[1.04,1.396],[1.025,1.392],[1.022,1.38],[1.092,1.387],[1.122,1.394],[1.155,1.393],[1.224,1.421],[1.262,1.427],[1.272,1.417],[1.287,1.408],[1.205,1.403],[1.317,1.426],[1.351,1.406],[1.519,1.41],[1.647,1.465],[1.699,1.464],[1.781,1.472],[1.796,1.463],[0.898,1.361],[0.987,1.351]];

const histRedLower = [[1.62,1.402],[1.644,1.4],[1.676,1.381],[1.392,1.362],[1.571,1.36],[1.263,1.349],[1.22,1.332],[1.287,1.333],[1.425,1.335],[1.254,1.306],[1.194,1.295],[1.092,1.298],[1.13,1.293],[0.999,1.303],[0.98,1.295],[1.022,1.29],[0.908,1.287],[0.977,1.281],[1.107,1.278],[1.122,1.271],[1.1,1.269],[0.987,1.262],[0.987,1.259],[0.987,1.244],[1.047,1.252],
  [1.055,1.246],[1.137,1.259],[1.202,1.27],[1.232,1.271],[1.28,1.278],[1.317,1.282],[1.347,1.302],[1.357,1.293],[1.576,1.344],[1.636,1.351],[1.702,1.359]];

const histRightTwo = [[1.034,1.48],[1.061,1.48],[1.092,1.477],[1.092,1.471],[1.124,1.48],[1.153,1.482],[1.183,1.483],[1.166,1.469],[1.168,1.466],[1.051,1.464],[1.135,1.458],[1.168,1.458],[1.201,1.461],[1.209,1.455],[1.216,1.48],[1.24,1.478],[1.266,1.483],[1.275,1.48],[1.225,1.465],[1.246,1.466],[1.283,1.469],[1.3,1.468],[1.308,1.458],[1.322,1.461],[1.331,1.464],[1.338,1.448],[1.331,1.485],[1.348,1.483],[1.242,1.5],[1.315,1.519],[1.392,1.512],[1.453,1.519],[1.488,1.528],[1.434,1.534],[1.47,1.539],[1.488,1.546],[1.511,1.496],[1.583,1.521],[1.592,1.538],[1.561,1.544],[1.574,1.546],[1.44,1.464],
  [1.318,1.566],[1.35,1.548],[1.379,1.547],[1.383,1.553],[1.409,1.557],[1.444,1.562],[1.485,1.566],[1.514,1.569],[1.56,1.571],[1.561,1.562],[1.6,1.568],[1.618,1.574],[1.627,1.578],[1.594,1.59],[1.608,1.596],[1.646,1.591],[1.668,1.582],[1.707,1.599],[1.727,1.588],[1.727,1.578],[1.696,1.568],[1.688,1.565],[1.622,1.553],[1.661,1.557],[1.666,1.552],[1.653,1.547],[1.675,1.546],[1.714,1.559],[1.735,1.553],[1.744,1.568],[1.766,1.552],[1.766,1.555],[1.79,1.555],[1.762,1.582],[1.762,1.575],[1.783,1.575],[1.803,1.577],[1.811,1.569],[1.831,1.564],[1.851,1.569],[1.848,1.556],[1.841,1.582],[1.879,1.58],[1.892,1.582],[1.92,1.59],[1.961,1.59],[1.931,1.571],[1.975,1.58],[1.979,1.575],[2.025,1.592],[2.057,1.588],[2.035,1.574],[2.121,1.559],[1.892,1.544],[1.916,1.533],[1.977,1.545],[1.77,1.534],[1.798,1.534],[1.714,1.505],
  [1.646,1.465],[1.699,1.464],[1.775,1.472],[1.799,1.473],[1.822,1.469],[1.799,1.464],[1.853,1.48],[1.521,1.41],[1.618,1.402],[1.644,1.4],[1.676,1.381],[1.842,1.452],[1.868,1.449],[1.818,1.439],[1.868,1.427],[1.905,1.431],[1.927,1.434],[1.835,1.415],[1.908,1.414],[1.831,1.398],[2.009,1.427]];

const historyPoints = [
  ...histLeftTail, ...histLowerLeft, ...histMainBlobLeft, ...histStreak, ...histStreakDense, ...histStreakOuter, ...histAroundNow,
  ...histUpperBand, ...histBlobsNearMinusOne, ...histCentreBlob, ...histCentreScatter,
  ...histRightOne, ...histRedLower, ...histRightTwo,
].map(([x, y]) => ({ x, y }));

const curve = (values: number[]) => values.map((y, i) => ({ x: curveX[i], y }));

const RED_FILL = '#6e0600';
const ORANGE_FILL = '#4f2900';
const OLIVE_FILL = '#392d00';
const GREEN_FILL = '#001f00';
const RED_EDGE = '#c01c00';
const BRIGHT_EDGE = '#ee3c10';
const ORANGE_EDGE = '#cc8810';
const OLIVE_EDGE = '#748a10';
const HIST_COLOR = 'rgba(0, 228, 235, 0.42)';

const bandLine = (label: string, values: number[], borderColor: string, fillColor?: string) => ({
  type: 'line' as const,
  label,
  data: curve(values),
  borderColor,
  borderWidth: 2.5,
  pointRadius: 0,
  tension: 0.4,
  backgroundColor: fillColor,
  fill: fillColor ? '+1' : false,
});

// short closing strokes at both ends of each band
const bandEnds = (from: number[], to: number[], borderColor: string) =>
  [0, curveX.length - 1].map((i) => ({
    type: 'line' as const,
    label: 'edge',
    data: [{ x: curveX[i], y: from[i] }, { x: curveX[i], y: to[i] }],
    borderColor,
    borderWidth: 2,
    pointRadius: 0,
    fill: false,
  }));

// legend, logo and the credit line are not something Chart.js can place on its own
const decorations: Plugin<'scatter'> = {
  id: 'decorations',
  afterDraw(chart) {
    const ctx = chart.ctx;
    const { left, top, right, bottom } = chart.chartArea;
    ctx.save();

    // closed frame around the plot
    ctx.strokeStyle = '#fff';
    ctx.lineWidth = 2;
    ctx.strokeRect(left, top, right - left, bottom - top);

    // legend frame
    ctx.fillStyle = 'rgba(0,0,0,0.75)';
    ctx.strokeStyle = '#3a3a3a';
    ctx.beginPath();
    ctx.roundRect(144, 117, 409, 266, 6);
    ctx.fill();
    ctx.stroke();

    const rowY = [140, 176, 213, 249, 286, 323, 361];
    const swatches = [
      null,
      null,
      ['#001f00', '#0a4a0a'],
      ['#403500', '#7a6a00'],
      ['#5a3000', '#a8620c'],
      ['#7a0a00', '#b81c00'],
    ];
    ctx.font = '24.8px "DejaVu Sans"';
    ctx.textBaseline = 'middle';
    ctx.textAlign = 'left';
    legendLabels.forEach((label, i) => {
      const y = rowY[i];
      const sw = swatches[i];
      if (i === 0) {
        ctx.beginPath();
        ctx.arc(179, y, 5, 0, Math.PI * 2);
        ctx.fillStyle = '#055f6e';
        ctx.fill();
        ctx.strokeStyle = '#0a8898';
        ctx.lineWidth = 1.5;
        ctx.stroke();
      } else if (i === 1) {
        ctx.fillStyle = '#fff';
        ctx.fillRect(151, y - 3, 56, 6);
      } else if (i === 6) {
        ctx.beginPath();
        ctx.arc(179, y, 18, 0, Math.PI * 2);
        ctx.fillStyle = '#00dc00';
        ctx.fill();
      } else if (sw) {
        ctx.fillStyle = sw[0];
        ctx.fillRect(153, y - 9, 51, 18);
        ctx.strokeStyle = sw[1];
        ctx.lineWidth = 1.5;
        ctx.strokeRect(153, y - 9, 51, 18);
      }
      ctx.fillStyle = '#fff';
      ctx.fillText(label, 224, y + 1.5);
    });

    // logo crescent
    const grad = ctx.createLinearGradient(2120, 0, 2275, 0);
    grad.addColorStop(0, '#1c1c1c');
    grad.addColorStop(0.5, '#8a8a8a');
    grad.addColorStop(1, '#c0c0c0');
    ctx.fillStyle = grad;
    ctx.beginPath();
    ctx.moveTo(2120, 1280);
    ctx.bezierCurveTo(2160, 1325, 2275, 1325, 2273, 1212);
    ctx.bezierCurveTo(2262, 1300, 2165, 1318, 2120, 1280);
    ctx.fill();

    // logo text
    ctx.textBaseline = 'alphabetic';
    ctx.fillStyle = '#fff';
    ctx.font = '200 33px Inter';
    ctx.fillText('KONVEX', 2106, 1276, 133);
    ctx.font = '800 33px Inter';
    ctx.fillText('INVESTMENT', 2255, 1276, 218);
    ctx.fillStyle = '#2e9fe8';
    ctx.font = '700 25px Inter';
    ctx.fillText('Akademie', 2292, 1301, 124);

    // credit line
    ctx.fillStyle = '#777';
    ctx.font = 'italic 23.8px "DejaVu Sans"';
    ctx.textAlign = 'right';
    ctx.textBaseline = 'middle';
    ctx.fillText(creditText, 2538, 1457);
    ctx.restore();
  },
};

const config: ChartConfiguration<'scatter'> = {
  type: 'scatter',
  data: {
    datasets: [
      {
        label: 'JETZT',
        data: [nowPoint],
        pointRadius: 18,
        backgroundColor: '#00dc00',
        borderColor: '#fff',
        borderWidth: 2,
      },
      {
        type: 'line',
        label: 'Fair Value (Mittelwert)',
        data: curve(fairValue),
        borderColor: '#fff',
        borderWidth: 6,
        pointRadius: 0,
        tension: 0.4,
        fill: false,
      },
      {
        label: 'Historische Daten',
        data: historyPoints,
        pointRadius: 5.6,
        backgroundColor: HIST_COLOR,
        borderColor: HIST_COLOR,
        borderWidth: 1.5,
      },
      ...bandEnds(upper3, upper2, RED_EDGE),
      ...bandEnds(upper2, upper15, ORANGE_EDGE),
      ...bandEnds(upper15, upper1, OLIVE_EDGE),
      ...bandEnds(upper1, lower1, '#0c4a0c'),
      ...bandEnds(lower1, lower15, OLIVE_EDGE),
      ...bandEnds(lower15, lower2, ORANGE_EDGE),
      ...bandEnds(lower2, lower3, RED_EDGE),
      bandLine('upper3', upper3, RED_EDGE, RED_FILL),
      bandLine('upper2', upper2, BRIGHT_EDGE, ORANGE_FILL),
      bandLine('upper15', upper15, ORANGE_EDGE, OLIVE_FILL),
      bandLine('upper1', upper1, OLIVE_EDGE, GREEN_FILL),
      bandLine('lower1', lower1, OLIVE_EDGE, OLIVE_FILL),
      bandLine('lower15', lower15, ORANGE_EDGE, ORANGE_FILL),
      bandLine('lower2', lower2, BRIGHT_EDGE, RED_FILL),
      bandLine('lower3', lower3, RED_EDGE),
    ] as any,
  },
  options: {
    responsive: false,
    animation: false,
    devicePixelRatio: 1,
    layout: { padding: { right: 27 } },
    plugins: {
      legend: { display: false },
      tooltip: { enabled: false },
      title: {
        display: true,
        fullSize: false,
        text: titleLines,
        color: '#fff',
        font: { family: '"DejaVu Sans"', size: 35.7, weight: 'normal', lineHeight: 1.17 },
        padding: { top: 18, bottom: 4.5 },
      },
    },
    scales: {
      x: {
        type: 'linear',
        bounds: 'data',
        min: -3.857,
        max: 2.409,
        afterFit: (scale) => { scale.height = 161; },
        afterBuildTicks: (scale) => { scale.ticks = xTickValues.map((value) => ({ value })); },
        title: {
          display: true,
          text: xAxisLabel,
          color: '#fff',
          font: { family: '"DejaVu Sans"', size: 29.7 },
          padding: { top: 0, bottom: 62.5 },
        },
        ticks: {
          color: '#fff',
          autoSkip: false,
          maxRotation: 0,
          padding: 13,
          font: { family: '"DejaVu Sans"', size: 27.7 },
          callback: (v) => (Number(v) < 0 ? `−${Math.abs(Number(v))}` : `${v}`),
          z: 2,
        },
        grid: {
          color: 'rgba(255,255,255,0.2)',
          lineWidth: 1.5,
          tickColor: '#fff',
          tickLength: 10,
          tickWidth: 2,
          z: 1,
        },
        border: { color: '#fff', width: 2, dash: [9, 8], z: 2 },
      },
      y: {
        type: 'linear',
        bounds: 'data',
        min: 0.846,
        max: 1.9225,
        afterFit: (scale) => { scale.width = 132; },
        afterBuildTicks: (scale) => { scale.ticks = yTickValues.map((value) => ({ value })); },
        title: {
          display: true,
          text: yAxisLabel,
          color: '#fff',
          font: { family: '"DejaVu Sans"', size: 29.7 },
          padding: { top: 18.5, bottom: 0 },
        },
        ticks: {
          color: '#fff',
          autoSkip: false,
          padding: 10,
          font: { family: '"DejaVu Sans"', size: 27.7 },
          callback: (v) => Number(v).toFixed(1),
          z: 2,
        },
        grid: {
          color: 'rgba(255,255,255,0.2)',
          lineWidth: 1.5,
          tickColor: '#fff',
          tickLength: 10,
          tickWidth: 2,
          z: 1,
        },
        border: { color: '#fff', width: 2, dash: [9, 8], z: 2 },
      },
    },
  },
  plugins: [decorations],
};

export default function App() {
  const canvasRef = useRef<HTMLCanvasElement>(null);

  useEffect(() => {
    const canvas = canvasRef.current;
    if (!canvas) return;
    document.body.style.margin = '0';
    document.body.style.background = '#000';
    const chart = new Chart(canvas, config);
    return () => chart.destroy();
  }, []);

  return (
    <div style={{ width: 2560, height: 1490, background: '#000' }}>
      <canvas ref={canvasRef} width={2560} height={1490} style={{ display: 'block' }} />
    </div>
  );
}
